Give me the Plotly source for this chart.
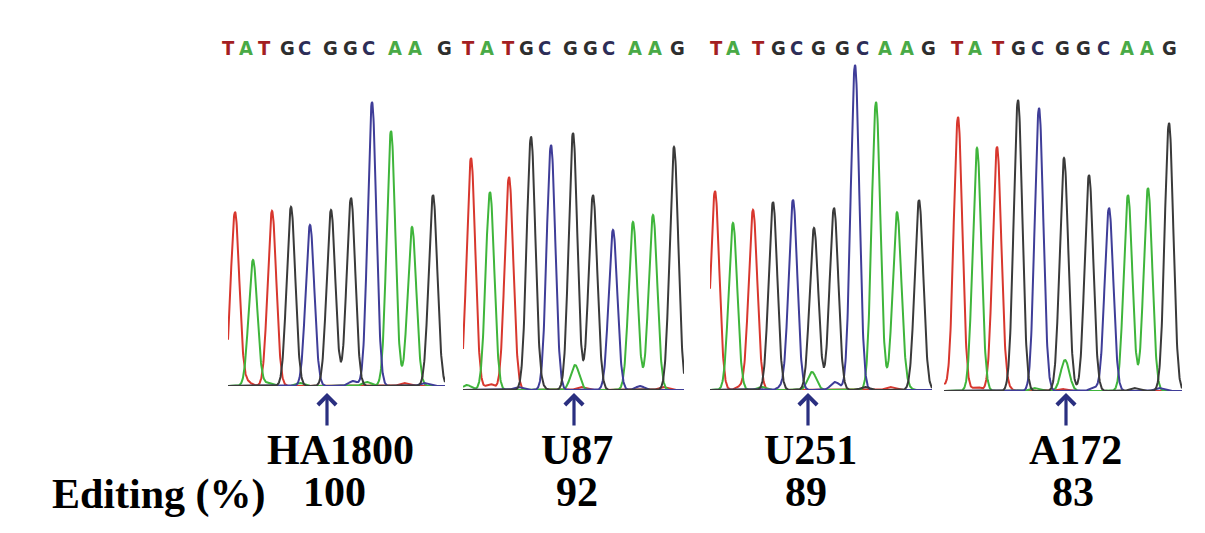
import numpy as np
import plotly.graph_objects as go

W, H = 1205, 533

sequence = list("TATGCGGCAAG")
cell_lines = ["HA1800", "U87", "U251", "A172"]
editing_pct = [100, 92, 89, 83]

# called peaks: scan position and signal height (RFU) per sample
pos_ha1800 = [7, 25, 44, 63, 82, 103, 123, 144, 163, 184, 205]
hgt_ha1800 = [1740, 1260, 1750, 1790, 1610, 1760, 1880, 2840, 2550, 1590, 1910]
pos_u87 = [8, 27, 46, 68, 88, 110, 130, 150, 170, 190, 211]
hgt_u87 = [2320, 1980, 2130, 2530, 2450, 2570, 1950, 1600, 1680, 1750, 2430]
pos_u251 = [5, 23, 43, 63, 83, 104, 124, 145, 166, 187, 209]
hgt_u251 = [1990, 1670, 1800, 1880, 1900, 1620, 1820, 3250, 2880, 1770, 1900]
pos_a172 = [14, 33, 53, 74, 95, 120, 145, 165, 184, 204, 225]
hgt_a172 = [2740, 2430, 2440, 2910, 2830, 2330, 2160, 1830, 1960, 2030, 2680]

# base-call letter positions on the scan axis
call_ha1800 = [0, 18, 36, 59, 76, 102, 122, 140, 167, 187, 216]
call_u87 = [5, 24, 45, 63, 81, 107, 127, 145, 172, 192, 214]
call_u251 = [6, 23, 48, 68, 86, 108, 132, 152, 175, 197, 218]
call_a172 = [13, 31, 54, 74, 93, 118, 139, 159, 183, 203, 225]

# secondary / background peaks: (base, scan position, height)
minor_ha1800 = [("T", 19, 40), ("A", 40, 30), ("A", 72, 30), ("C", 125, 50),
                ("A", 139, 40), ("T", 176, 30), ("C", 196, 30)]
minor_u87 = [("A", 4, 50), ("T", 27, 60), ("C", 55, 30), ("G", 77, 30),
             ("A", 112, 250), ("T", 118, 30), ("C", 177, 40), ("T", 200, 30)]
minor_u251 = [("T", 30, 30), ("A", 52, 30), ("C", 72, 30), ("A", 102, 180),
              ("C", 125, 80), ("G", 155, 30), ("T", 180, 30), ("A", 195, 40)]
minor_a172 = [("T", -4, 90), ("T", 33, 40), ("T", 63, 30), ("A", 90, 30),
              ("A", 121, 310), ("T", 118, 20), ("C", 150, 30), ("G", 190, 30),
              ("C", 215, 30)]

edit_site = [99, 111, 98, 122]

samples = [
    (pos_ha1800, hgt_ha1800, call_ha1800, minor_ha1800),
    (pos_u87, hgt_u87, call_u87, minor_u87),
    (pos_u251, hgt_u251, call_u251, minor_u251),
    (pos_a172, hgt_a172, call_a172, minor_a172),
]

trace_colors = {"T": "#d8372e", "A": "#3fb53b", "C": "#3f3d98", "G": "#3a3a3a"}
letter_colors = {"T": "#a31e22", "A": "#49aa46", "C": "#2d2d58", "G": "#2e2e2e"}

# panel placement in pixels: left, right, baseline
panels = [(228, 445, 386), (463, 684, 390), (710, 932, 390), (944, 1182, 391)]
top_px = 60
sigma = 4.3

fig = go.Figure()
annotations = []

for i, ((pos, hgt, calls, minor), (left, right, base)) in enumerate(zip(samples, panels)):
    n = "" if i == 0 else str(i + 1)
    width = right - left
    xs = np.arange(0, width + 0.25, 0.25)
    for b in ["T", "A", "C", "G"]:
        ys = np.zeros_like(xs)
        for letter, p, h in zip(sequence, pos, hgt):
            if letter == b:
                ys += h * np.exp(-(xs - p) ** 2 / (2 * sigma ** 2))
        for letter, p, h in minor:
            if letter == b:
                ys += h * np.exp(-(xs - p) ** 2 / (2 * sigma ** 2))
        fig.add_trace(go.Scatter(
            x=xs, y=ys, mode="lines", xaxis="x" + n, yaxis="y" + n,
            line=dict(color=trace_colors[b], width=2), showlegend=False,
            hoverinfo="skip"))

    fig.update_layout(**{
        "xaxis" + n: dict(domain=[left / W, right / W], range=[0, width],
                          visible=False, fixedrange=True),
        "yaxis" + n: dict(domain=[1 - base / H, 1 - top_px / H],
                          range=[0, (base - top_px) * 10],
                          visible=False, fixedrange=True),
    })

    for letter, c in zip(sequence, calls):
        annotations.append(dict(
            x=c, xref="x" + n, y=1 - 48 / H, yref="paper", text=letter,
            showarrow=False, xanchor="center", yanchor="middle",
            font=dict(family="DejaVu Sans Condensed, Liberation Sans Narrow, sans-serif",
                      size=20, color=letter_colors[letter], weight="bold")))

    annotations.append(dict(
        x=edit_site[i], xref="x" + n, y=1 - 393 / H, yref="paper", text="",
        showarrow=True, ax=0, ay=34, arrowhead=4, arrowsize=1.1,
        arrowwidth=3.2, arrowcolor="#2a2f80", standoff=0))

label_x = [340, 577, 810, 1075]
value_x = [334, 577, 806, 1073]
serif = dict(family="Liberation Serif, Times New Roman, serif", size=42,
             color="black", weight="bold")

for name, pct, lx, vx in zip(cell_lines, editing_pct, label_x, value_x):
    annotations.append(dict(x=lx / W, y=1 - 450 / H, xref="paper", yref="paper",
                            text=name, showarrow=False, xanchor="center",
                            yanchor="middle", font=serif))
    annotations.append(dict(x=vx / W, y=1 - 492 / H, xref="paper", yref="paper",
                            text=str(pct), showarrow=False, xanchor="center",
                            yanchor="middle", font=serif))

annotations.append(dict(x=50 / W, y=1 - 494 / H, xref="paper", yref="paper",
                        text="Editing (%)", showarrow=False, xanchor="left",
                        yanchor="middle", font=serif))

fig.update_layout(
    width=W, height=H,
    margin=dict(l=0, r=0, t=0, b=0),
    paper_bgcolor="white", plot_bgcolor="white",
    annotations=annotations,
)

fig.write_html("out.html", config={"displayModeBar": False},
               post_script="document.body.style.margin='0';")
